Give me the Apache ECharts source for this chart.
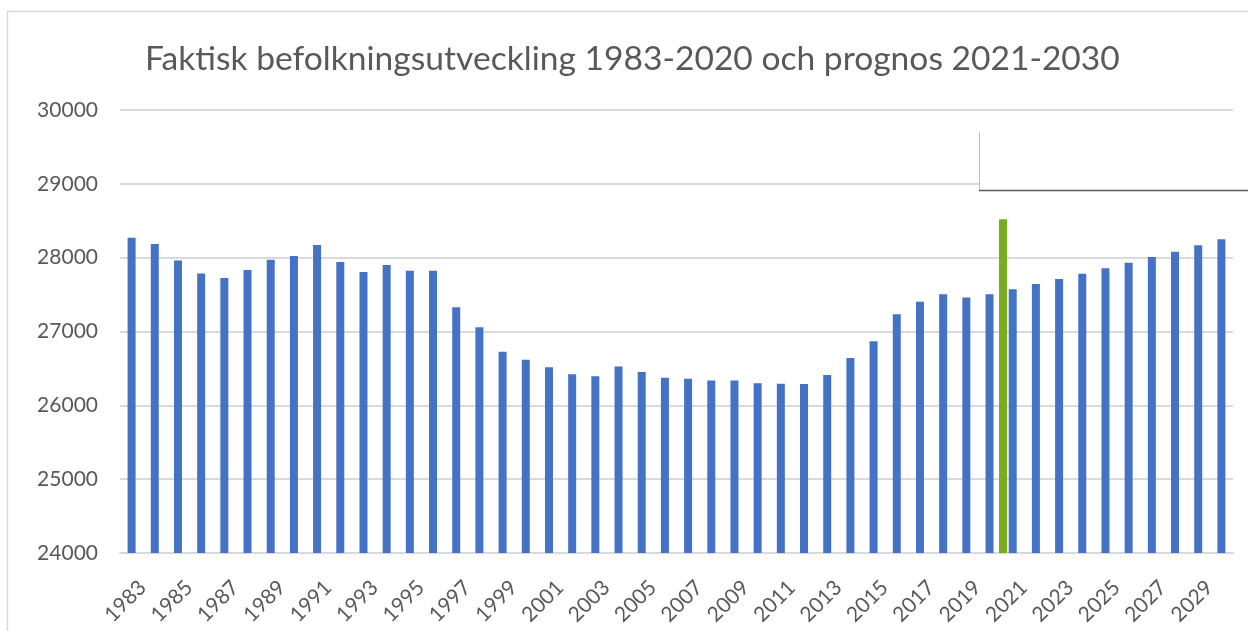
<!DOCTYPE html>
<html>
<head>
<meta charset="utf-8">
<script src="https://cdn.jsdelivr.net/npm/echarts@6/dist/echarts.min.js"></script>
<style>
html,body{margin:0;padding:0;background:#fff;}
#chart{width:1248px;height:631px;}
</style>
</head>
<body>
<div id="chart"></div>
<script>
var years = [];
for (var y = 1983; y <= 2030; y++) years.push(String(y));

var population = [
  28271, 28184, 27960, 27787, 27724, 27832, 27973, 28022, 28170, 27941,
  27805, 27900, 27824, 27824, 27327, 27056, 26727, 26618, 26515, 26420,
  26393, 26526, 26451, 26375, 26361, 26338, 26338, 26298, 26293, 26289,
  26410, 26640, 26867, 27232, 27404, 27503, 27462, 27503, 27571, 27643,
  27711, 27783, 27855, 27932, 28008, 28081, 28167, 28248
];

var highlightYear = '2020';
var highlightValue = 28520;

var yMin = 24000, yMax = 30000, yStep = 1000;

var titleText = 'Faktisk befolkningsutveckling 1983-2020 och prognos 2021-2030';

var highlight = years.map(function (yr) { return yr === highlightYear ? highlightValue : '-'; });

var FONT = 'Lato';
var chart = echarts.init(document.getElementById('chart'));
chart.setOption({
  animation: false,
  backgroundColor: '#ffffff',
  title: {
    text: titleText,
    left: 140,
    top: 37,
    textStyle: { fontFamily: FONT, fontSize: 33.6, fontWeight: 'normal', color: '#595959' }
  },
  grid: [
    { left: 120, right: 15, top: 110, bottom: 78 },
    { left: 133.5, right: 1.5, top: 110, bottom: 78 },
    { left: 131, right: 4, top: 110, bottom: 78 }
  ],
  xAxis: [
    {
      type: 'category', gridIndex: 0, data: years,
      axisLine: { lineStyle: { color: '#d9d9d9', width: 2 } },
      axisTick: { show: false },
      axisLabel: { show: false }
    },
    {
      type: 'category', gridIndex: 1, data: years, show: false
    },
    {
      type: 'category', gridIndex: 2, data: years,
      axisLine: { show: false }, axisTick: { show: false },
      axisLabel: { interval: 1, rotate: 45, fontFamily: FONT, fontSize: 21, color: '#595959', margin: 31 }
    }
  ],
  yAxis: [
    {
      type: 'value', gridIndex: 0, min: yMin, max: yMax, interval: yStep,
      axisLine: { show: false }, axisTick: { show: false },
      splitLine: { lineStyle: { color: '#d9d9d9', width: 2 } },
      axisLabel: { fontFamily: FONT, fontSize: 21, color: '#595959', margin: 22,
        formatter: function (v) { return String(v); } }
    },
    {
      type: 'value', gridIndex: 1, min: yMin, max: yMax, interval: yStep, show: false,
      splitLine: { show: false }
    },
    {
      type: 'value', gridIndex: 2, min: yMin, max: yMax, interval: yStep, show: false,
      splitLine: { show: false }
    }
  ],
  series: [
    {
      type: 'bar', xAxisIndex: 0, yAxisIndex: 0, data: population,
      barWidth: 8, itemStyle: { color: '#4472C4' }, z: 2
    },
    {
      type: 'bar', xAxisIndex: 1, yAxisIndex: 1, data: highlight,
      barWidth: 8, itemStyle: { color: '#77AC1F' }, z: 3
    }
  ],
  graphic: [
    { type: 'line', z: 100, shape: { x1: 7.5, y1: 11, x2: 7.5, y2: 631 }, style: { stroke: '#d9d9d9', lineWidth: 1.5 } },
    { type: 'line', z: 100, shape: { x1: 7, y1: 11.5, x2: 1248, y2: 11.5 }, style: { stroke: '#d9d9d9', lineWidth: 1.5 } },
    { type: 'rect', z: 100, shape: { x: 979, y: 132, width: 269, height: 59 }, style: { fill: '#ffffff' } },
    { type: 'line', z: 101, shape: { x1: 979.5, y1: 132, x2: 979.5, y2: 191 }, style: { stroke: '#bfbfbf', lineWidth: 1 } },
    { type: 'line', z: 101, shape: { x1: 979, y1: 190.5, x2: 1248, y2: 190.5 }, style: { stroke: '#595959', lineWidth: 1.5 } }
  ]
});
</script>
</body>
</html>
